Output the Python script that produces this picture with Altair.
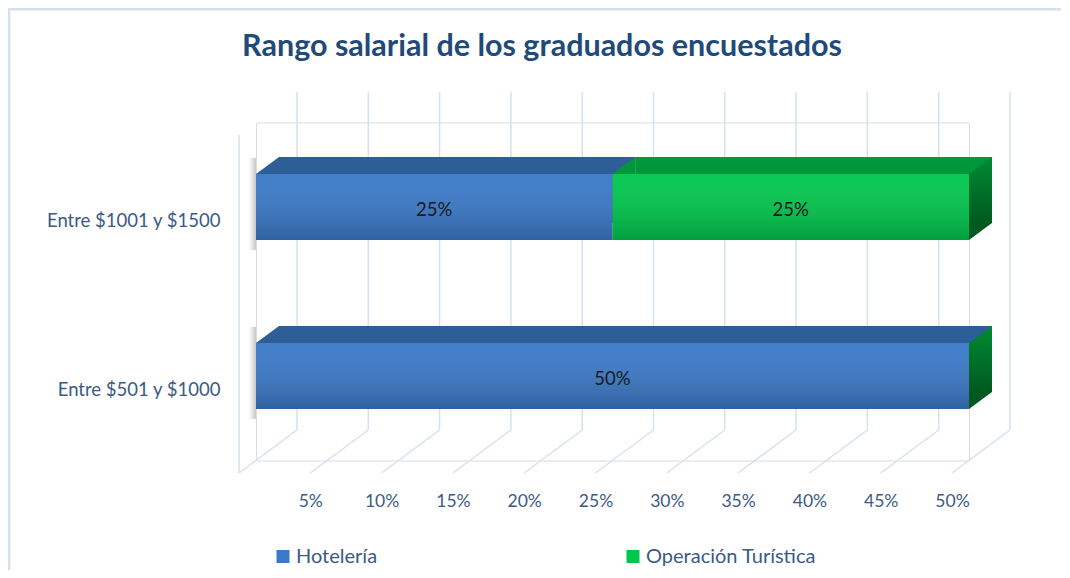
import altair as alt
import pandas as pd

# ---- data ----
categories = ["Entre $1001 y $1500", "Entre $501 y $1000"]
series = ["Hotelería", "Operación Turística"]
hoteleria = [0.25, 0.50]
operacion = [0.25, 0.0]
tick_values = [0.05, 0.10, 0.15, 0.20, 0.25, 0.30, 0.35, 0.40, 0.45, 0.50]
grid_values = [0.0] + tick_values
title_text = ["Rango salarial de los graduados encuestados"]

rows = []
for c, h, o in zip(categories, hoteleria, operacion):
    rows.append({"cat": c, "serie": series[0], "val": h, "ord": 0})
    rows.append({"cat": c, "serie": series[1], "val": o, "ord": 1})
df = pd.DataFrame(rows)
grid_df = pd.DataFrame({"g": grid_values})
title_df = pd.DataFrame({"t": title_text})
one = pd.DataFrame({"a": [0]})

# ---- style ----
FONT = "Lato"
LABEL_COLOR = "#3b5a85"
GRID_COLOR = "#d5e1f1"
FRONT = ["#3a79c8", "#00c64c"]
TOP = ["#2e5e98", "#00973a"]
DEPTH_X = 23
DEPTH_Y = -17
BACK_DX = 41
FRONT_DX = -17
HALF_BAR = 33
TRI_SIZE = DEPTH_X * DEPTH_X
K = round(-DEPTH_Y / DEPTH_X, 3)
TRI_LEFT = f"M -1 {K} L 1 {K} L 1 -{K} Z"
TRI_RIGHT_TOP = f"M -1 {K} L -1 -{K} L 1 -{K} Z"
TRI_RIGHT_BOT = f"M -1 -{K} L -1 {K} L 1 -{K} Z"

W, H = 713, 338
xscale = alt.Scale(domain=[0, 0.5], nice=False, zero=True)
yscale = alt.Scale(domain=categories, paddingInner=0.61, paddingOuter=0.305)

xaxis = alt.Axis(values=tick_values, format=".0%", title=None, grid=False,
                 domain=False, ticks=False, labelFontSize=17.5, labelFont=FONT,
                 labelColor=LABEL_COLOR, labelPadding=32, labelOffset=FRONT_DX,
                 labelFlush=False, labelOverlap=False)
yaxis = alt.Axis(title=None, grid=False, domain=False, ticks=False,
                 labelFontSize=18.5, labelFont=FONT, labelColor=LABEL_COLOR,
                 labelPadding=36, labelOffset=14, labelLimit=400)

X = lambda f: alt.X(f, scale=xscale, axis=xaxis)
Y = alt.Y("cat:N", scale=yscale, axis=yaxis, sort=categories)

base = alt.Chart(df).transform_stack(
    stack="val", as_=["x0", "x1"], groupby=["cat"],
    sort=[alt.SortField("ord", order="ascending")]
).transform_joinaggregate(total="sum(val)", groupby=["cat"])

# title
title = alt.Chart(title_df).mark_text(
    font=FONT, fontSize=30.5, fontWeight="bold", color="#1f4a7a",
    align="center", baseline="alphabetic").encode(
    x=alt.value(286), y=alt.value(-67), text="t:N")

# gridlines (3D wall / floor look)
grid_back = alt.Chart(grid_df).mark_rule(color=GRID_COLOR, strokeWidth=1.5,
                                         xOffset=BACK_DX, x2Offset=BACK_DX).encode(
    x=X("g:Q"), x2="g:Q", y=alt.value(-30.5), y2=alt.value(307.5))
grid_floor = alt.Chart(grid_df).mark_rule(color=GRID_COLOR, strokeWidth=1.5,
                                          xOffset=BACK_DX, x2Offset=FRONT_DX).encode(
    x=X("g:Q"), x2="g:Q", y=alt.value(307.5), y2=alt.value(350.5))
wall = alt.Chart(grid_df).transform_filter("datum.g == 0").mark_rule(
    color=GRID_COLOR, strokeWidth=1.5, xOffset=FRONT_DX, x2Offset=FRONT_DX).encode(
    x=X("g:Q"), x2="g:Q", y=alt.value(12.5), y2=alt.value(350.5))

# soft shadow on the left of each bar
shadow_grad = alt.LinearGradient(gradient="linear", x1=0, x2=1, y1=0, y2=0,
                                 stops=[alt.GradientStop(color="rgba(0,0,0,0)", offset=0),
                                        alt.GradientStop(color="rgba(0,0,0,0.22)", offset=1)])
shadow = base.transform_filter("datum.ord == 0").mark_bar(
    xOffset=-7, x2Offset=0, height=92, yOffset=-3, color=shadow_grad).encode(
    x=X("x0:Q"), x2="x0:Q", y=Y)

# top faces
back = base.transform_filter("datum.val > 0").mark_bar(
    xOffset=DEPTH_X, x2Offset=DEPTH_X, yOffset=DEPTH_Y).encode(
    x=X("x0:Q"), x2="x1:Q", y=Y,
    color=alt.Color("serie:N", scale=alt.Scale(domain=series, range=TOP), legend=None))

# right side face (end of each bar)
side_grad = alt.LinearGradient(gradient="linear", x1=0, x2=0, y1=0, y2=1,
                               stops=[alt.GradientStop(color="#008a33", offset=0),
                                      alt.GradientStop(color="#005a1f", offset=1)])
side = base.transform_filter("datum.ord == 1").mark_rect(
    xOffset=0, x2Offset=DEPTH_X, yOffset=DEPTH_Y, color=side_grad).encode(
    x=X("total:Q"), x2="total:Q", y=Y)
side_bot = base.transform_filter("datum.ord == 1").mark_point(
    shape=TRI_RIGHT_BOT, size=TRI_SIZE, filled=True, opacity=1, strokeWidth=0,
    color="#005a1f", xOffset=DEPTH_X / 2, yOffset=HALF_BAR + DEPTH_Y / 2).encode(
    x=X("total:Q"), y=Y)

# slanted corners of the top faces
tri_left = base.transform_filter("datum.val > 0").mark_point(
    shape=TRI_LEFT, size=TRI_SIZE, filled=True, opacity=1, strokeWidth=0,
    xOffset=DEPTH_X / 2, yOffset=-HALF_BAR + DEPTH_Y / 2).encode(
    x=X("x0:Q"), y=Y,
    color=alt.Color("serie:N", scale=alt.Scale(domain=series, range=TOP), legend=None))
tri_right = base.transform_filter("datum.val > 0 && abs(datum.x1 - datum.total) < 1e-9").mark_point(
    shape=TRI_RIGHT_TOP, size=TRI_SIZE, filled=True, opacity=1, strokeWidth=0,
    xOffset=DEPTH_X / 2, yOffset=-HALF_BAR + DEPTH_Y / 2).encode(
    x=X("x1:Q"), y=Y,
    color=alt.Color("serie:N", scale=alt.Scale(domain=series, range=TOP), legend=None))

# front faces (with legend)
front = base.mark_bar().encode(
    x=X("x0:Q"), x2="x1:Q", y=Y,
    color=alt.Color("serie:N", scale=alt.Scale(domain=series, range=FRONT),
                    legend=alt.Legend(title=None, orient="none", direction="horizontal",
                                      legendX=17, legendY=424, symbolType="square",
                                      symbolSize=169, symbolStrokeWidth=0,
                                      labelFontSize=20, labelFont=FONT,
                                      labelColor=LABEL_COLOR, labelOffset=3,
                                      labelLimit=400, columnPadding=245)))

shade_grad = alt.LinearGradient(gradient="linear", x1=0, x2=0, y1=0, y2=1,
                                stops=[alt.GradientStop(color="rgba(255,255,255,0.04)", offset=0),
                                       alt.GradientStop(color="rgba(0,0,0,0.2)", offset=1)])
shade = base.transform_filter("datum.val > 0").mark_bar(color=shade_grad).encode(
    x=X("x0:Q"), x2="x1:Q", y=Y)

labels = base.transform_filter("datum.val > 0").transform_calculate(
    mid="(datum.x0 + datum.x1) / 2",
    txt="format(datum.val, '.0%')").mark_text(
    fontSize=18.5, font=FONT, color="#1a1a1a", baseline="middle", dy=3).encode(
    x=X("mid:Q"), y=Y, text="txt:N")

# outer frame lines
frame_top = alt.Chart(one).mark_rule(color="#d3e0f1", strokeWidth=2.5).encode(
    x=alt.value(-248), x2=alt.value(820), y=alt.value(-113.2))
frame_left = alt.Chart(one).mark_rule(color="#d3e0f1", strokeWidth=2.5).encode(
    x=alt.value(-247), y=alt.value(-114.5), y2=alt.value(460))

chart = alt.layer(
    frame_top, frame_left, title, grid_back, grid_floor, wall, shadow, back, side, side_bot,
    tri_left, tri_right, front, shade, labels
).resolve_scale(color="independent").properties(
    width=W, height=H,
    padding={"left": 248, "top": 114.5, "right": 92, "bottom": 109},
    autosize="none",
).configure_view(stroke=None).configure(background="white")

chart.save("out.html", embed_options={"renderer": "svg", "actions": False})
